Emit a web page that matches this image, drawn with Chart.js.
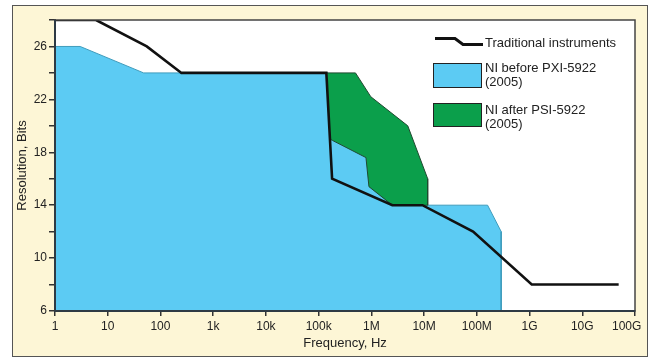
<!DOCTYPE html>
<html><head><meta charset="utf-8">
<script src="https://cdn.jsdelivr.net/npm/chart.js@4.4.0/dist/chart.umd.min.js"></script>
<style>
html,body{margin:0;padding:0;background:#fff;width:654px;height:358px;overflow:hidden;}
#frame{position:absolute;left:12px;top:5px;width:634px;height:350px;border:1px solid #555;background:#fdf6d6;}
#c{position:absolute;left:0;top:0;}
.lg{position:absolute;font-family:"Liberation Sans",Arial,sans-serif;font-size:13px;color:#222;line-height:14px;white-space:nowrap;}
.box{position:absolute;border:1.5px solid #222;box-sizing:border-box;}
</style></head><body>
<div id="frame">
<canvas id="c" width="634" height="350"></canvas>
<svg style="position:absolute;left:420px;top:30px" width="55" height="14"><polyline points="2,2.5 22,2.5 30,8.5 50,8.5" fill="none" stroke="#111" stroke-width="3"/></svg>
<div class="lg" style="left:472px;top:30px">Traditional instruments</div>
<div class="box" style="left:420px;top:57px;width:49px;height:25px;background:#5ccbf3"></div>
<div class="lg" style="left:472px;top:55px">NI before PXI-5922<br>(2005)</div>
<div class="box" style="left:420px;top:97px;width:49px;height:24px;background:#0b9f4b"></div>
<div class="lg" style="left:472px;top:97px">NI after PSI-5922<br>(2005)</div>
</div>
<script>
const freqTicks = [1, 10, 100, 1e3, 1e4, 1e5, 1e6, 1e7, 1e8, 1e9, 1e10, 1e11];
const freqLabels = ['1', '10', '100', '1k', '10k', '100k', '1M', '10M', '100M', '1G', '10G', '100G'];
const bitLabels = {6: '6', 10: '10', 14: '14', 18: '18', 22: '22', 26: '26'};

const tradFreq = [1, 6, 55, 250, 1.4e5, 1.8e5, 2.5e6, 9.3e6, 8.5e7, 1.1e9, 4.9e10];
const tradBits = [28, 28, 26, 24, 24, 16, 14, 14, 12, 8, 8];

const beforeFreq = [1, 1, 3, 48, 1.5e5, 1.2e6, 9e6, 1.6e8, 2.9e8, 2.9e8];
const beforeBits = [6, 26, 26, 24, 24, 17, 14, 14, 12, 6];

const afterFreq = [1.45e5, 5e5, 9.75e5, 4.9e6, 1.17e7, 1.17e7, 2.5e6, 9e5, 7.9e5, 1.82e5, 1.65e5];
const afterBits = [24, 24, 22.2, 20, 16, 14, 14, 15.4, 17.6, 18.9, 19];

const pts = (xs, ys) => xs.map((x, i) => ({x: x, y: ys[i]}));

const frameBg = {
  id: 'frameBg',
  beforeDraw(chart) {
    const a = chart.chartArea, ctx = chart.ctx;
    ctx.save(); ctx.fillStyle = '#ffffff';
    ctx.fillRect(a.left, a.top, a.right - a.left, a.bottom - a.top);
    ctx.restore();
  },
  afterDatasetsDraw(chart) {
    const a = chart.chartArea, ctx = chart.ctx;
    ctx.save(); ctx.strokeStyle = '#444'; ctx.lineWidth = 1.5;
    ctx.strokeRect(a.left, a.top, a.right - a.left, a.bottom - a.top);
    ctx.strokeStyle = '#2e3a44'; ctx.lineWidth = 2;
    ctx.beginPath(); ctx.moveTo(a.left, a.top); ctx.lineTo(a.left, a.bottom); ctx.lineTo(a.right, a.bottom); ctx.stroke();
    ctx.restore();
  }
};

const tickFont = {family: '"Liberation Sans", Arial, sans-serif', size: 12};
const titleFont = {family: '"Liberation Sans", Arial, sans-serif', size: 13};

new Chart(document.getElementById('c'), {
  type: 'line',
  data: {
    datasets: [
      {label: 'Traditional instruments', data: pts(tradFreq, tradBits), borderColor: '#111', borderWidth: 2.6, pointRadius: 0, fill: false, tension: 0},
      {label: 'NI after PSI-5922 (2005)', data: pts(afterFreq, afterBits), borderColor: '#1f4a30', backgroundColor: '#0b9f4b', borderWidth: 1, pointRadius: 0, fill: 'shape', tension: 0},
      {label: 'NI before PXI-5922 (2005)', data: pts(beforeFreq, beforeBits), borderColor: '#3f9cbc', backgroundColor: '#5ccbf3', borderWidth: 1, pointRadius: 0, fill: 'shape', tension: 0}
    ]
  },
  options: {
    responsive: false, animation: false, devicePixelRatio: 1,
    layout: {padding: {left: 0, top: 14, right: 12, bottom: 0}},
    plugins: {legend: {display: false}, tooltip: {enabled: false}},
    scales: {
      x: {
        type: 'logarithmic', min: 1, max: 1e11, position: 'bottom',
        afterBuildTicks: s => { s.ticks = freqTicks.map(v => ({value: v})); },
        ticks: {
          callback: v => {
            const i = freqTicks.indexOf(v);
            const t = freqLabels[i] || '';
            return i === freqTicks.length - 1 ? t + '\u00a0\u00a0\u00a0\u00a0\u00a0' : t;
          },
          autoSkip: false, maxRotation: 0, padding: 3, font: tickFont, color: '#222'
        },
        grid: {drawOnChartArea: false, drawTicks: true, tickLength: 5, tickColor: '#333', lineWidth: 1.5},
        border: {display: true, color: '#2e3a44', width: 2},
        title: {display: true, text: 'Frequency, Hz', font: titleFont, color: '#222', padding: {top: 2, bottom: 5}},
        afterFit: s => { s.height = 45; s.paddingLeft = 0; s.paddingRight = 0; }
      },
      y: {
        type: 'linear', min: 6, max: 28, position: 'left',
        ticks: {stepSize: 2, callback: v => bitLabels[v] || '', autoSkip: false, padding: 2, font: tickFont, color: '#222'},
        grid: {drawOnChartArea: false, drawTicks: true, tickLength: 6, tickColor: '#333', lineWidth: 1.5},
        border: {display: true, color: '#2e3a44', width: 2},
        title: {display: true, text: 'Resolution, Bits', font: titleFont, color: '#222', padding: {top: 2, bottom: 2}},
        afterFit: s => { s.width = 42; s.paddingTop = 0; s.paddingBottom = 0; }
      }
    }
  },
  plugins: [frameBg]
});
</script>
</body></html>
